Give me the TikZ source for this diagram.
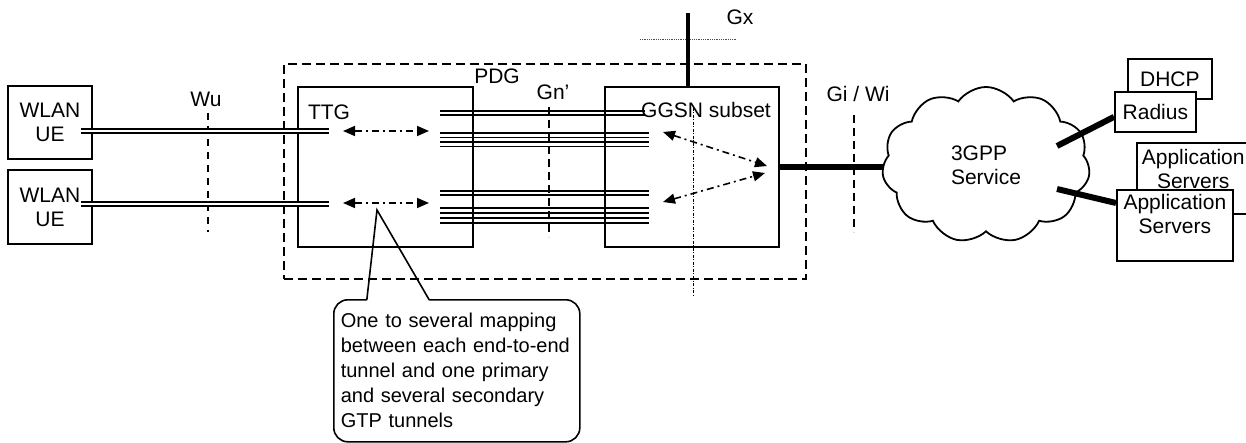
\documentclass[tikz,border=0pt]{standalone}
\usepackage{fontspec}
\setmainfont{Liberation Sans}
\usetikzlibrary{positioning,arrows.meta,shapes.symbols,calc}

\begin{document}
\begin{tikzpicture}[x=1pt, y=-1pt, line width=1.6pt,
  txt/.style={font=\fontsize{21}{24}\selectfont, inner sep=0pt},
  box/.style={draw, line width=1.8pt, fill=white, align=center, font=\fontsize{21}{24}\selectfont},
  tun/.style={line width=1.5pt},
  dtun/.style={line width=1.5pt, double, double distance=2.4pt},
  map/.style={{Triangle[length=12pt,width=10pt]}-{Triangle[length=12pt,width=10pt]}, line width=1.6pt, dash pattern=on 7pt off 4pt on 2pt off 4pt},
  ifc/.style={line width=2.8pt, dash pattern=on 8pt off 5pt},
  fat/.style={line width=#1}]
\useasboundingbox (0,0) rectangle (1246,443);
% PDG and its two parts
\node[draw, line width=2.6pt, dash pattern=on 9pt off 5pt, minimum width=522, minimum height=215] (pdg) at (545,171.5) {};
\node[draw, line width=1.8pt, minimum width=175, minimum height=160] (ttg) at (385.5,167) {};
\node[draw, line width=1.8pt, minimum width=174, minimum height=160] (ggsn) at (692,167) {};
\node[box, minimum width=84, minimum height=73] (ue1) at (50,122.5) {WLAN\\UE};
\node[box, minimum width=84, minimum height=74] (ue2) at (50,207) {WLAN\\UE};
% labels
\node[txt, anchor=base] (wu) at (206,107) {Wu};
\node[txt, anchor=base] (pdglbl) at (497,84) {PDG};
\node[txt, anchor=base] (gn) at (553,100) {Gn’};
\node[txt, anchor=base] (ttglbl) at (329,120) {TTG};
\node[txt, anchor=base] (ggsnlbl) at (706,118) {GGSN subset};
\node[txt, anchor=base] (gx) at (740,25) {Gx};
\node[txt, anchor=base] (gi) at (858,102) {Gi / Wi};
% service side
\node[cloud, draw, line width=1.8pt, cloud puffs=11, cloud puff arc=110, aspect=1.33, minimum width=208, minimum height=156, inner sep=0pt, align=left, font=\fontsize{21}{24}\selectfont] (svc) at (986,165) {3GPP\\Service};
\node[box, minimum width=84, minimum height=40, anchor=north west] (dhcp) at (1127,58) {DHCP};
\node[box, minimum width=81, minimum height=40, anchor=north west] (radius) at (1114,91) {Radius};
\node[box, minimum width=126, minimum height=71, anchor=north west] (app2) at (1136,142) {};
\node[txt, anchor=north west, align=center] (app2txt) at ($(app2.north west)+(5,6)$) {Application\\Servers};
\node[box, minimum width=116, minimum height=71, anchor=north west] (app1) at (1116,189) {};
\node[txt, anchor=north, align=center] (app1txt) at ($(app1.north)+(0,4)$) {Application\\Servers};
% reference points
\draw[line width=1.2pt, dash pattern=on 7pt off 6pt] (208,113) -- (208,232);
\draw[ifc] (549,107) -- (549,237);
\draw[ifc] (854,115) -- (854,232);
\draw[line width=0.8pt, densely dotted, black!70] (640,39) -- (737,39);
\draw[line width=0.8pt, dash pattern=on 3pt off 1.5pt on 1pt off 1.5pt] (693,108) -- (693,295);
\coordinate (gxtop) at (688,13);
\draw[fat=3.5pt] (gxtop) -- (gxtop |- ggsn.north);
% tunnels
\draw[dtun] ($(ue1.east)+(-12,8.5)$) -- (329,131);
\draw[dtun] ($(ue2.east)+(-12,-3)$) -- (329,204);
\foreach \y in {111,115} \draw[tun] (440,\y) -- (645,\y);
\foreach \y in {133,137.5,142,146.5,191,195,208,213,218,223} \draw[tun] (440,\y) -- (649,\y);
\draw[map] (343,131) -- (429,131);
\draw[map] (343,203) -- (429,203);
\draw[map] (663,132) -- (767,166);
\draw[map] (663,202) -- (765,173);
% links to the service network
\coordinate (svcR) at (1057,146);
\coordinate (svcA) at (1057,189);
\draw[fat=5.5pt] (ggsn.east) -- (ggsn.east -| svc.west);
\draw[fat=6pt] (svcR) -- ([yshift=-5pt]radius.west);
\draw[fat=6pt] (svcA) -- ($(app1.north west)+(0,14)$);
% callout
\node[draw, line width=1.6pt, rounded corners=14pt, anchor=north west, text width=232pt, inner xsep=7pt, inner ysep=0pt, minimum height=142pt, align=left, font=\fontsize{20}{25}\selectfont] (note) at (333,299) {One to several mapping\\between each end-to-end\\tunnel and one primary\\and several secondary\\GTP tunnels};
\coordinate (tip) at (377,210);
\fill[white] ($(note.north west)+(34.2,-2)$) -- ($(note.north west)+(94.8,-2)$) -- ($(note.north west)+(96.3,2)$) -- ($(note.north west)+(33.8,2)$) -- cycle;
\draw ($(note.north west)+(33.8,1)$) -- (tip) -- ($(note.north west)+(96.3,1)$);
\end{tikzpicture}
\end{document}
